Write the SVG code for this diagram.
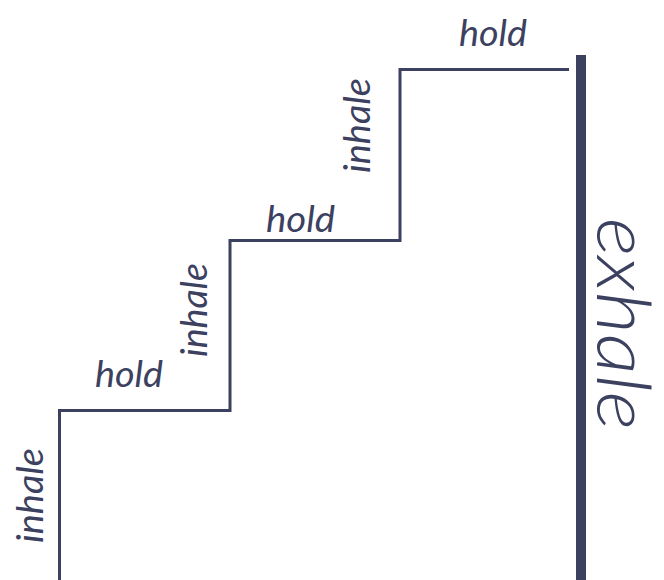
<svg xmlns="http://www.w3.org/2000/svg" width="664" height="580" viewBox="0 0 664 580">
<style>
.ln{fill:none;stroke:#3c4160;stroke-width:3;stroke-linejoin:miter}
.lbl{font-family:Lato,"Open Sans",sans-serif;font-style:italic;font-weight:400;fill:#3c4160;font-size:36px}
.big{font-family:Lato,"Open Sans",sans-serif;font-style:italic;font-weight:300;fill:#3c4160;font-size:74px}
</style>
<rect width="664" height="580" fill="#ffffff"/>
<g id="connectors">
<path class="ln" d="M59.5,580 V410.5 H230 V240.5 H400 V69.5 H569"/>
<rect x="576" y="55" width="10" height="525" fill="#3c4160"/>
</g>
<g id="inhale1"><text class="lbl" transform="translate(43,543) rotate(-90)" textLength="95" lengthAdjust="spacingAndGlyphs">inhale</text></g>
<g id="hold1"><text class="lbl" x="95" y="387" textLength="68" lengthAdjust="spacingAndGlyphs">hold</text></g>
<g id="inhale2"><text class="lbl" transform="translate(207,357) rotate(-90)" textLength="94" lengthAdjust="spacingAndGlyphs">inhale</text></g>
<g id="hold2"><text class="lbl" x="266" y="232" textLength="69" lengthAdjust="spacingAndGlyphs">hold</text></g>
<g id="inhale3"><text class="lbl" transform="translate(370,173) rotate(-90)" textLength="95" lengthAdjust="spacingAndGlyphs">inhale</text></g>
<g id="hold3"><text class="lbl" x="459" y="46" textLength="68" lengthAdjust="spacingAndGlyphs">hold</text></g>
<g id="exhale"><text class="big" transform="translate(597,218) rotate(90)" textLength="212" lengthAdjust="spacingAndGlyphs">exhale</text></g>
</svg>
